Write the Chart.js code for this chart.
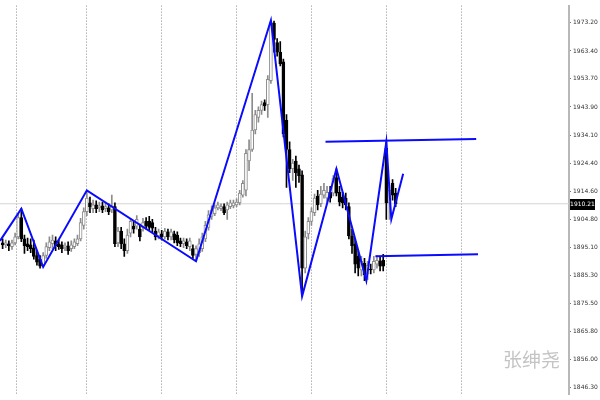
<!DOCTYPE html>
<html>
<head>
<meta charset="utf-8">
<script src="https://cdn.jsdelivr.net/npm/chart.js@4.4.1/dist/chart.umd.min.js"></script>
<style>
html,body{margin:0;padding:0;background:#fff;}
#wrap{width:600px;height:400px;position:relative;}
</style>
</head>
<body>
<div id="wrap"><canvas id="c" width="600" height="400"></canvas></div>
<script>
// ---- data (bar index = position in arrays) ----
const opens = [
1896.6,1895.9,1896.3,1895.3,1896.6,1898.7,1905.4,1898.0,1896.3,1895.9,
1894.9,1892.2,1890.9,1888.8,1892.2,1894.9,1896.3,1897.3,1896.3,1895.9,
1895.3,1895.6,1894.6,1895.3,1896.3,1898.0,1902.7,1907.5,1910.5,1908.5,
1909.8,1908.8,1909.5,1908.5,1908.8,1908.1,1909.2,1896.6,1900.7,1896.3,
1893.9,1900.0,1902.4,1902.4,1901.4,1902.0,1904.1,1904.1,1903.7,1900.7,
1899.0,1899.7,1898.7,1900.4,1898.7,1899.7,1899.3,1897.3,1896.3,1897.0,
1895.3,1894.6,1892.6,1893.2,1894.6,1898.0,1902.0,1905.8,1906.8,1908.8,
1908.5,1909.2,1908.1,1909.2,1909.5,1909.8,1910.5,1913.2,1914.9,1925.1,
1929.1,1935.9,1940.3,1942.7,1945.4,1944.7,1953.1,1973.1,1966.3,1963.0,
1959.6,1939.3,1929.1,1922.4,1925.1,1922.4,1920.3,1887.8,1899.7,1904.1,
1907.1,1912.9,1910.2,1913.2,1912.2,1914.2,1913.9,1919.3,1914.2,1912.5,
1912.2,1909.2,1899.0,1896.3,1891.9,1887.2,1889.5,1885.8,1887.5,1887.2,
1889.2,1890.2,1890.5,1929.5,1910.5,1917.3,1913.9
];
const highs = [
1898.0,1897.6,1897.3,1897.6,1900.0,1906.8,1908.5,1899.3,1898.3,1898.0,
1897.6,1893.9,1892.2,1893.2,1896.6,1898.7,1899.3,1898.7,1897.6,1897.0,
1896.6,1897.0,1897.3,1898.0,1899.3,1905.1,1908.8,1914.9,1912.5,1911.5,
1911.2,1910.8,1910.8,1910.5,1910.2,1913.2,1910.5,1902.0,1902.0,1898.0,
1901.4,1905.1,1904.1,1906.1,1903.1,1905.1,1905.4,1905.8,1904.8,1902.0,
1901.4,1901.0,1901.7,1901.4,1901.4,1900.7,1900.4,1898.3,1898.3,1898.0,
1898.3,1895.9,1895.6,1898.0,1900.0,1904.1,1907.8,1909.5,1909.8,1910.8,
1910.2,1910.2,1910.8,1911.5,1911.5,1911.9,1914.9,1918.3,1929.1,1932.5,
1948.7,1942.7,1944.0,1946.0,1946.4,1954.8,1974.1,1973.8,1967.7,1966.7,
1960.6,1941.3,1931.8,1925.7,1926.8,1923.7,1921.7,1900.7,1905.4,1908.8,
1913.6,1914.9,1916.3,1917.3,1916.3,1916.3,1920.0,1922.4,1916.3,1914.2,
1913.9,1910.5,1901.4,1898.0,1893.9,1891.9,1891.2,1890.2,1889.2,1891.9,
1892.2,1891.9,1892.6,1931.8,1916.6,1918.6,1915.6
];
const lows = [
1894.6,1894.9,1893.9,1894.3,1895.9,1898.0,1897.0,1892.9,1893.9,1893.2,
1890.9,1888.8,1887.8,1888.2,1891.2,1893.9,1894.6,1893.9,1894.3,1893.2,
1893.9,1892.6,1893.6,1894.6,1895.6,1897.3,1901.4,1906.1,1907.1,1907.1,
1907.1,1907.5,1907.1,1907.5,1906.4,1907.1,1895.3,1895.3,1894.6,1891.9,
1892.9,1898.7,1900.0,1901.4,1897.3,1900.7,1901.4,1901.0,1900.4,1897.6,
1898.0,1897.6,1898.0,1897.6,1897.6,1896.6,1895.6,1895.3,1894.9,1894.6,
1893.9,1891.2,1890.2,1891.9,1893.6,1897.0,1901.0,1904.8,1906.1,1908.1,
1907.8,1906.4,1904.8,1908.5,1908.8,1909.2,1909.8,1912.5,1912.9,1921.7,
1928.4,1934.5,1938.6,1941.3,1942.7,1940.3,1952.1,1963.0,1961.6,1958.2,
1933.5,1915.9,1921.0,1918.3,1915.9,1917.6,1878.0,1886.1,1898.0,1902.7,
1906.1,1908.1,1909.2,1912.2,1910.8,1910.8,1912.9,1912.9,1909.5,1908.8,
1908.1,1898.0,1892.9,1886.1,1885.1,1885.1,1883.4,1883.8,1885.8,1886.1,
1887.8,1886.8,1886.8,1904.8,1904.8,1911.5,1909.2
];
const closes = [
1895.9,1896.6,1895.6,1896.6,1898.7,1905.4,1898.0,1895.6,1895.3,1894.6,
1891.9,1889.9,1888.5,1892.2,1895.3,1897.0,1897.6,1895.6,1895.3,1894.6,
1895.6,1893.9,1895.9,1897.0,1898.0,1903.7,1907.5,1912.2,1909.2,1909.8,
1908.5,1909.5,1908.1,1909.2,1907.5,1909.5,1896.3,1900.7,1896.3,1893.9,
1899.3,1904.1,1901.4,1904.8,1898.7,1903.7,1902.4,1902.0,1901.7,1898.7,
1900.4,1898.7,1900.7,1898.7,1900.4,1897.6,1896.6,1896.3,1897.3,1895.6,
1897.3,1892.2,1894.6,1896.3,1898.7,1902.7,1906.4,1908.1,1908.8,1909.8,
1909.2,1907.1,1909.8,1910.5,1910.5,1910.8,1913.9,1917.3,1927.8,1929.1,
1935.9,1941.3,1942.7,1944.7,1944.3,1953.5,1973.5,1967.4,1963.0,1958.9,
1934.5,1929.1,1922.4,1924.4,1921.0,1920.0,1887.8,1898.7,1904.1,1907.5,
1912.2,1909.8,1913.6,1914.9,1914.2,1912.2,1919.0,1913.9,1910.8,1910.5,
1909.8,1899.0,1895.6,1889.2,1887.8,1890.2,1885.5,1888.8,1887.2,1890.2,
1890.5,1888.5,1888.5,1910.5,1914.9,1913.2,1910.21
];
// zigzag drawn on the chart (bar index, price)
const zigzagBars   = [-0.84, 6, 13, 27, 62, 86, 96, 107, 116.6, 123, 124.6, 128.4];
const zigzagPrices = [1897.3, 1908.5, 1888.2, 1914.9, 1890.2, 1974.1, 1878.0, 1922.4, 1883.4, 1931.8, 1904.8, 1920.7];
// horizontal lines
const upperLineBars = [103.5, 151.8];
const upperLinePrices = [1931.8, 1932.8];
const lowerLineBars = [119.5, 152.4];
const lowerLinePrices = [1891.9, 1892.6];
// price axis labels
const priceTicks = [1973.20,1963.40,1953.70,1943.90,1934.10,1924.40,1914.60,1904.80,1895.10,1885.30,1875.50,1865.80,1856.00,1846.30];
// period separators (bar index)
const separatorBars = [4.6, 27, 51, 75, 99, 123, 147];
const lastPrice = 1910.21;
const watermarkText = '张绅尧';

// ---- build library structures ----
const X_MIN = -0.84, X_MAX = 181.56;
const Y_MIN = 1843.84, Y_MAX = 1979.2;
const BULL = '#8c8c8c', BEAR = '#000000';

const wickData = [], bodyData = [], wickColors = [], bodyFill = [], bodyBorder = [];
for (let i = 0; i < opens.length; i++) {
  const up = closes[i] >= opens[i];
  wickData.push({x: i, y: [lows[i], highs[i]]});
  bodyData.push({x: i, y: [opens[i], closes[i]]});
  wickColors.push(up ? BULL : BEAR);
  bodyFill.push(up ? '#ffffff' : BEAR);
  bodyBorder.push(up ? BULL : BEAR);
}
const zig = zigzagBars.map((b, i) => ({x: b, y: zigzagPrices[i]}));
const up1 = upperLineBars.map((b, i) => ({x: b, y: upperLinePrices[i]}));
const lo1 = lowerLineBars.map((b, i) => ({x: b, y: lowerLinePrices[i]}));

const overlay = {
  id: 'overlay',
  beforeDatasetsDraw(chart) {
    const ctx = chart.ctx;
    ctx.save();
    ctx.font = "19px 'Noto Sans CJK SC'";
    ctx.fillStyle = '#c4c4c4';
    ctx.textAlign = 'right';
    ctx.textBaseline = 'middle';
    ctx.fillText(watermarkText, 560, 360);
    ctx.restore();
  },
  afterDraw(chart) {
    const ctx = chart.ctx;
    const y = chart.scales.y.getPixelForValue(lastPrice);
    ctx.save();
    ctx.fillStyle = '#000';
    ctx.fillRect(570, Math.round(y) - 5, 25, 11);
    ctx.fillStyle = '#fff';
    ctx.font = "6px 'DejaVu Sans'";
    ctx.textAlign = 'center';
    ctx.textBaseline = 'middle';
    ctx.fillText(lastPrice.toFixed(2), 582.5, Math.round(y) + 0.5);
    ctx.restore();
  }
};

new Chart(document.getElementById('c'), {
  type: 'bar',
  data: {
    datasets: [
      {type: 'line', data: zig, borderColor: '#0a0aff', borderWidth: 2, pointRadius: 0, tension: 0, order: 0},
      {type: 'line', data: up1, borderColor: '#0a0aff', borderWidth: 2, pointRadius: 0, order: 0},
      {type: 'line', data: lo1, borderColor: '#0a0aff', borderWidth: 2, pointRadius: 0, order: 0},
      {type: 'bar', data: bodyData, backgroundColor: bodyFill, borderColor: bodyBorder, borderWidth: 1,
       borderSkipped: false, barThickness: 3, grouped: false, order: 1},
      {type: 'bar', data: wickData, backgroundColor: wickColors, borderWidth: 0,
       barThickness: 1, grouped: false, order: 2},
      {type: 'line', data: [{x: X_MIN, y: lastPrice}, {x: X_MAX, y: lastPrice}], borderColor: '#d4d4d4',
       borderWidth: 1, pointRadius: 0, order: 3}
    ]
  },
  options: {
    responsive: false,
    animation: false,
    layout: {padding: 0},
    plugins: {legend: {display: false}, tooltip: {enabled: false}},
    scales: {
      x: {
        type: 'linear', min: X_MIN, max: X_MAX, offset: false,
        afterBuildTicks(scale) { scale.ticks = separatorBars.map(v => ({value: v})); },
        afterFit(scale) { scale.height = 0; },
        ticks: {display: false},
        grid: {color: '#8a8a8a', lineWidth: 1, drawTicks: false, offset: false},
        border: {display: false, dash: [1, 2]}
      },
      y: {
        position: 'right', min: Y_MIN, max: Y_MAX,
        afterBuildTicks(scale) { scale.ticks = priceTicks.map(v => ({value: v})); },
        afterFit(scale) { scale.width = 31; },
        ticks: {
          callback: v => Number(v).toFixed(2),
          font: {family: "'DejaVu Sans'", size: 6},
          color: '#333', padding: 2, autoSkip: false
        },
        grid: {drawOnChartArea: false, drawTicks: true, tickLength: 2, color: '#777'},
        border: {color: '#b8b8b8', width: 2}
      }
    }
  },
  plugins: [overlay]
});
</script>
</body>
</html>
